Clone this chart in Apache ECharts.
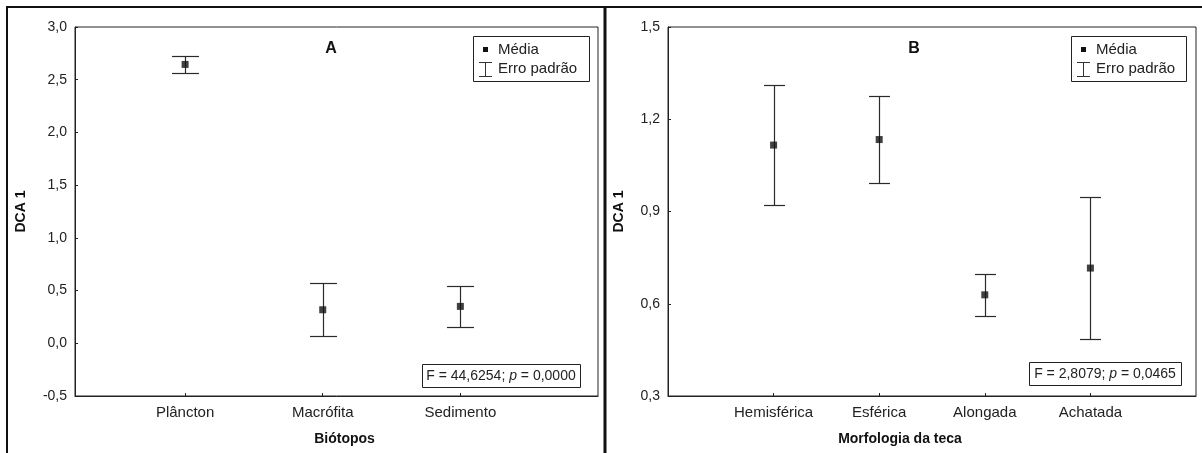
<!DOCTYPE html>
<html>
<head>
<meta charset="utf-8">
<script src="https://cdn.jsdelivr.net/npm/echarts@6/dist/echarts.min.js"></script>
<style>
html,body{margin:0;padding:0;background:#fff;}
#c{width:1202px;height:453px;}
</style>
</head>
<body>
<div id="c"></div>
<script>
// ---- data ----
const catsA = ['Plâncton', 'Macrófita', 'Sedimento'];
const meanA = [2.645, 0.318, 0.350];
const seA   = [0.080, 0.250, 0.195];

const catsB = ['Hemisférica', 'Esférica', 'Alongada', 'Achatada'];
const meanB = [1.116, 1.134, 0.629, 0.716];
const seB   = [0.194, 0.1425, 0.068, 0.230];

const statA = ['F = 44,6254; ', 'p', ' = 0,0000'];
const statB = ['F = 2,8079; ', 'p', ' = 0,0465'];

const yAxisName = 'DCA 1';
const xNameA = 'Biótopos';
const xNameB = 'Morfologia da teca';
const legendLabels = ['Média', 'Erro padrão'];

// ---- chart ----
const FONT = '"Liberation Sans", Arial, sans-serif';
const INK = '#222';
const chart = echarts.init(document.getElementById('c'), null, {renderer: 'canvas'});

function fmt(v) { return v.toFixed(1).replace('.', ','); }

function errRender(capHalf) {
  return function (params, api) {
    const x = api.value(0), lo = api.value(1), hi = api.value(2);
    const pLo = api.coord([x, lo]), pHi = api.coord([x, hi]);
    const cx = Math.round(pLo[0]) + 0.5;
    const yl = Math.round(pLo[1]) + 0.5, yh = Math.round(pHi[1]) + 0.5;
    const st = {stroke: '#2a2a2a', lineWidth: 1.2};
    return {type: 'group', children: [
      {type: 'line', shape: {x1: cx, y1: yl, x2: cx, y2: yh}, style: st},
      {type: 'line', shape: {x1: cx - capHalf, y1: yh, x2: cx + capHalf, y2: yh}, style: st},
      {type: 'line', shape: {x1: cx - capHalf, y1: yl, x2: cx + capHalf, y2: yl}, style: st}
    ]};
  };
}

const meanPtsA = meanA.map((m, i) => [i + 1, m]);
const errA = meanA.map((m, i) => [i + 1, m - seA[i], m + seA[i]]);
const meanPtsB = meanB.map((m, i) => [i + 1, m]);
const errB = meanB.map((m, i) => [i + 1, m - seB[i], m + seB[i]]);

function xAxis(idx, min, max, cats, name, namePad) {
  const vals = cats.map((c, i) => i + 1);
  return {
    type: 'value', gridIndex: idx, min: min, max: max,
    axisLine: {show: true, onZero: false, lineStyle: {color: INK, width: 1}},
    axisTick: {show: true, inside: true, length: 3, customValues: vals, lineStyle: {color: INK}},
    axisLabel: {show: true, customValues: vals, margin: 9,
      formatter: v => cats[Math.round(v) - 1] || '',
      color: '#222', fontFamily: FONT, fontSize: 15},
    splitLine: {show: false},
    name: name, nameLocation: 'middle', nameGap: 36,
    nameTextStyle: {fontFamily: FONT, fontWeight: 'bold', fontSize: 14, color: '#111', padding: namePad}
  };
}
function yAxis(idx, min, max, interval, gap) {
  return {
    type: 'value', gridIndex: idx, min: min, max: max, interval: interval,
    axisLine: {show: true, onZero: false, lineStyle: {color: INK, width: 1}},
    axisTick: {show: true, inside: true, length: 3, lineStyle: {color: INK}},
    axisLabel: {formatter: fmt, margin: 8, color: '#222', fontFamily: FONT, fontSize: 14},
    splitLine: {show: false},
    name: yAxisName, nameLocation: 'middle', nameGap: gap, nameRotate: 90,
    nameTextStyle: {fontFamily: FONT, fontWeight: 'bold', fontSize: 14, color: '#111'}
  };
}

function legendGraphics(x0, y0, w, h) {
  return [
    {type: 'rect', shape: {x: x0 + 0.5, y: y0 + 0.5, width: w, height: h}, style: {fill: '#fff', stroke: INK, lineWidth: 1}, z: 100},
    {type: 'rect', shape: {x: x0 + 10, y: y0 + 11, width: 5, height: 5}, style: {fill: '#111'}, z: 101},
    {type: 'line', shape: {x1: x0 + 12.5, y1: y0 + 26, x2: x0 + 12.5, y2: y0 + 40}, style: {stroke: '#333', lineWidth: 1}, z: 101},
    {type: 'line', shape: {x1: x0 + 6, y1: y0 + 26.5, x2: x0 + 19, y2: y0 + 26.5}, style: {stroke: '#333', lineWidth: 1}, z: 101},
    {type: 'line', shape: {x1: x0 + 6, y1: y0 + 40.5, x2: x0 + 19, y2: y0 + 40.5}, style: {stroke: '#333', lineWidth: 1}, z: 101},
    {type: 'text', x: x0 + 25, y: y0 + 14, style: {text: legendLabels[0], font: '15px ' + FONT, fill: '#222', verticalAlign: 'middle'}, z: 101},
    {type: 'text', x: x0 + 25, y: y0 + 33, style: {text: legendLabels[1], font: '15px ' + FONT, fill: '#222', verticalAlign: 'middle'}, z: 101}
  ];
}
function statGraphics(x0, y0, w, h, parts) {
  return [
    {type: 'rect', shape: {x: x0 + 0.5, y: y0 + 0.5, width: w, height: h}, style: {fill: '#fff', stroke: INK, lineWidth: 1}, z: 100},
    {type: 'text', x: x0 + w / 2, y: y0 + h / 2 + 1, style: {
      text: parts[0] + '{i|' + parts[1] + '}' + parts[2],
      font: '14px ' + FONT, fill: '#222', align: 'center', verticalAlign: 'middle',
      rich: {i: {fontStyle: 'italic', fontSize: 14, fontFamily: FONT}}
    }, z: 101}
  ];
}

const option = {
  animation: false,
  backgroundColor: '#fff',
  grid: [
    {left: 75, top: 27, width: 523, height: 369, show: true, borderColor: INK, borderWidth: 1, backgroundColor: 'transparent'},
    {left: 668, top: 27, width: 528, height: 369, show: true, borderColor: INK, borderWidth: 1, backgroundColor: 'transparent'}
  ],
  xAxis: [
    xAxis(0, 0.2, 4.0, catsA, xNameA, [0, 0, 0, 16]),
    xAxis(1, 0, 5, catsB, xNameB, [0, 64, 0, 0])
  ],
  yAxis: [
    yAxis(0, -0.5, 3.0, 0.5, 47),
    yAxis(1, 0.3, 1.5, 0.3, 42)
  ],
  series: [
    {type: 'custom', xAxisIndex: 0, yAxisIndex: 0, renderItem: errRender(13.5), data: errA, encode: {x: 0, y: [1, 2]}, silent: true},
    {type: 'scatter', xAxisIndex: 0, yAxisIndex: 0, symbol: 'rect', symbolSize: 7, itemStyle: {color: '#111'}, data: meanPtsA, z: 5},
    {type: 'custom', xAxisIndex: 1, yAxisIndex: 1, renderItem: errRender(10.5), data: errB, encode: {x: 0, y: [1, 2]}, silent: true},
    {type: 'scatter', xAxisIndex: 1, yAxisIndex: 1, symbol: 'rect', symbolSize: 7, itemStyle: {color: '#111'}, data: meanPtsB, z: 5}
  ],
  graphic: [
    // outer frame
    {type: 'line', shape: {x1: 6, y1: 7, x2: 1202, y2: 7}, style: {stroke: '#111', lineWidth: 2}},
    {type: 'line', shape: {x1: 7, y1: 6, x2: 7, y2: 453}, style: {stroke: '#111', lineWidth: 2}},
    {type: 'line', shape: {x1: 605, y1: 6, x2: 605, y2: 453}, style: {stroke: '#111', lineWidth: 3}},
    // panel letters
    {type: 'text', x: 331, y: 49, style: {text: 'A', font: 'bold 16px ' + FONT, fill: '#111', align: 'center', verticalAlign: 'middle'}},
    {type: 'text', x: 914, y: 49, style: {text: 'B', font: 'bold 16px ' + FONT, fill: '#111', align: 'center', verticalAlign: 'middle'}}
  ].concat(legendGraphics(473, 36, 116, 45))
   .concat(legendGraphics(1071, 36, 115, 45))
   .concat(statGraphics(422, 364, 158, 23, statA))
   .concat(statGraphics(1029, 362, 152, 23, statB))
};
chart.setOption(option);
</script>
</body>
</html>
